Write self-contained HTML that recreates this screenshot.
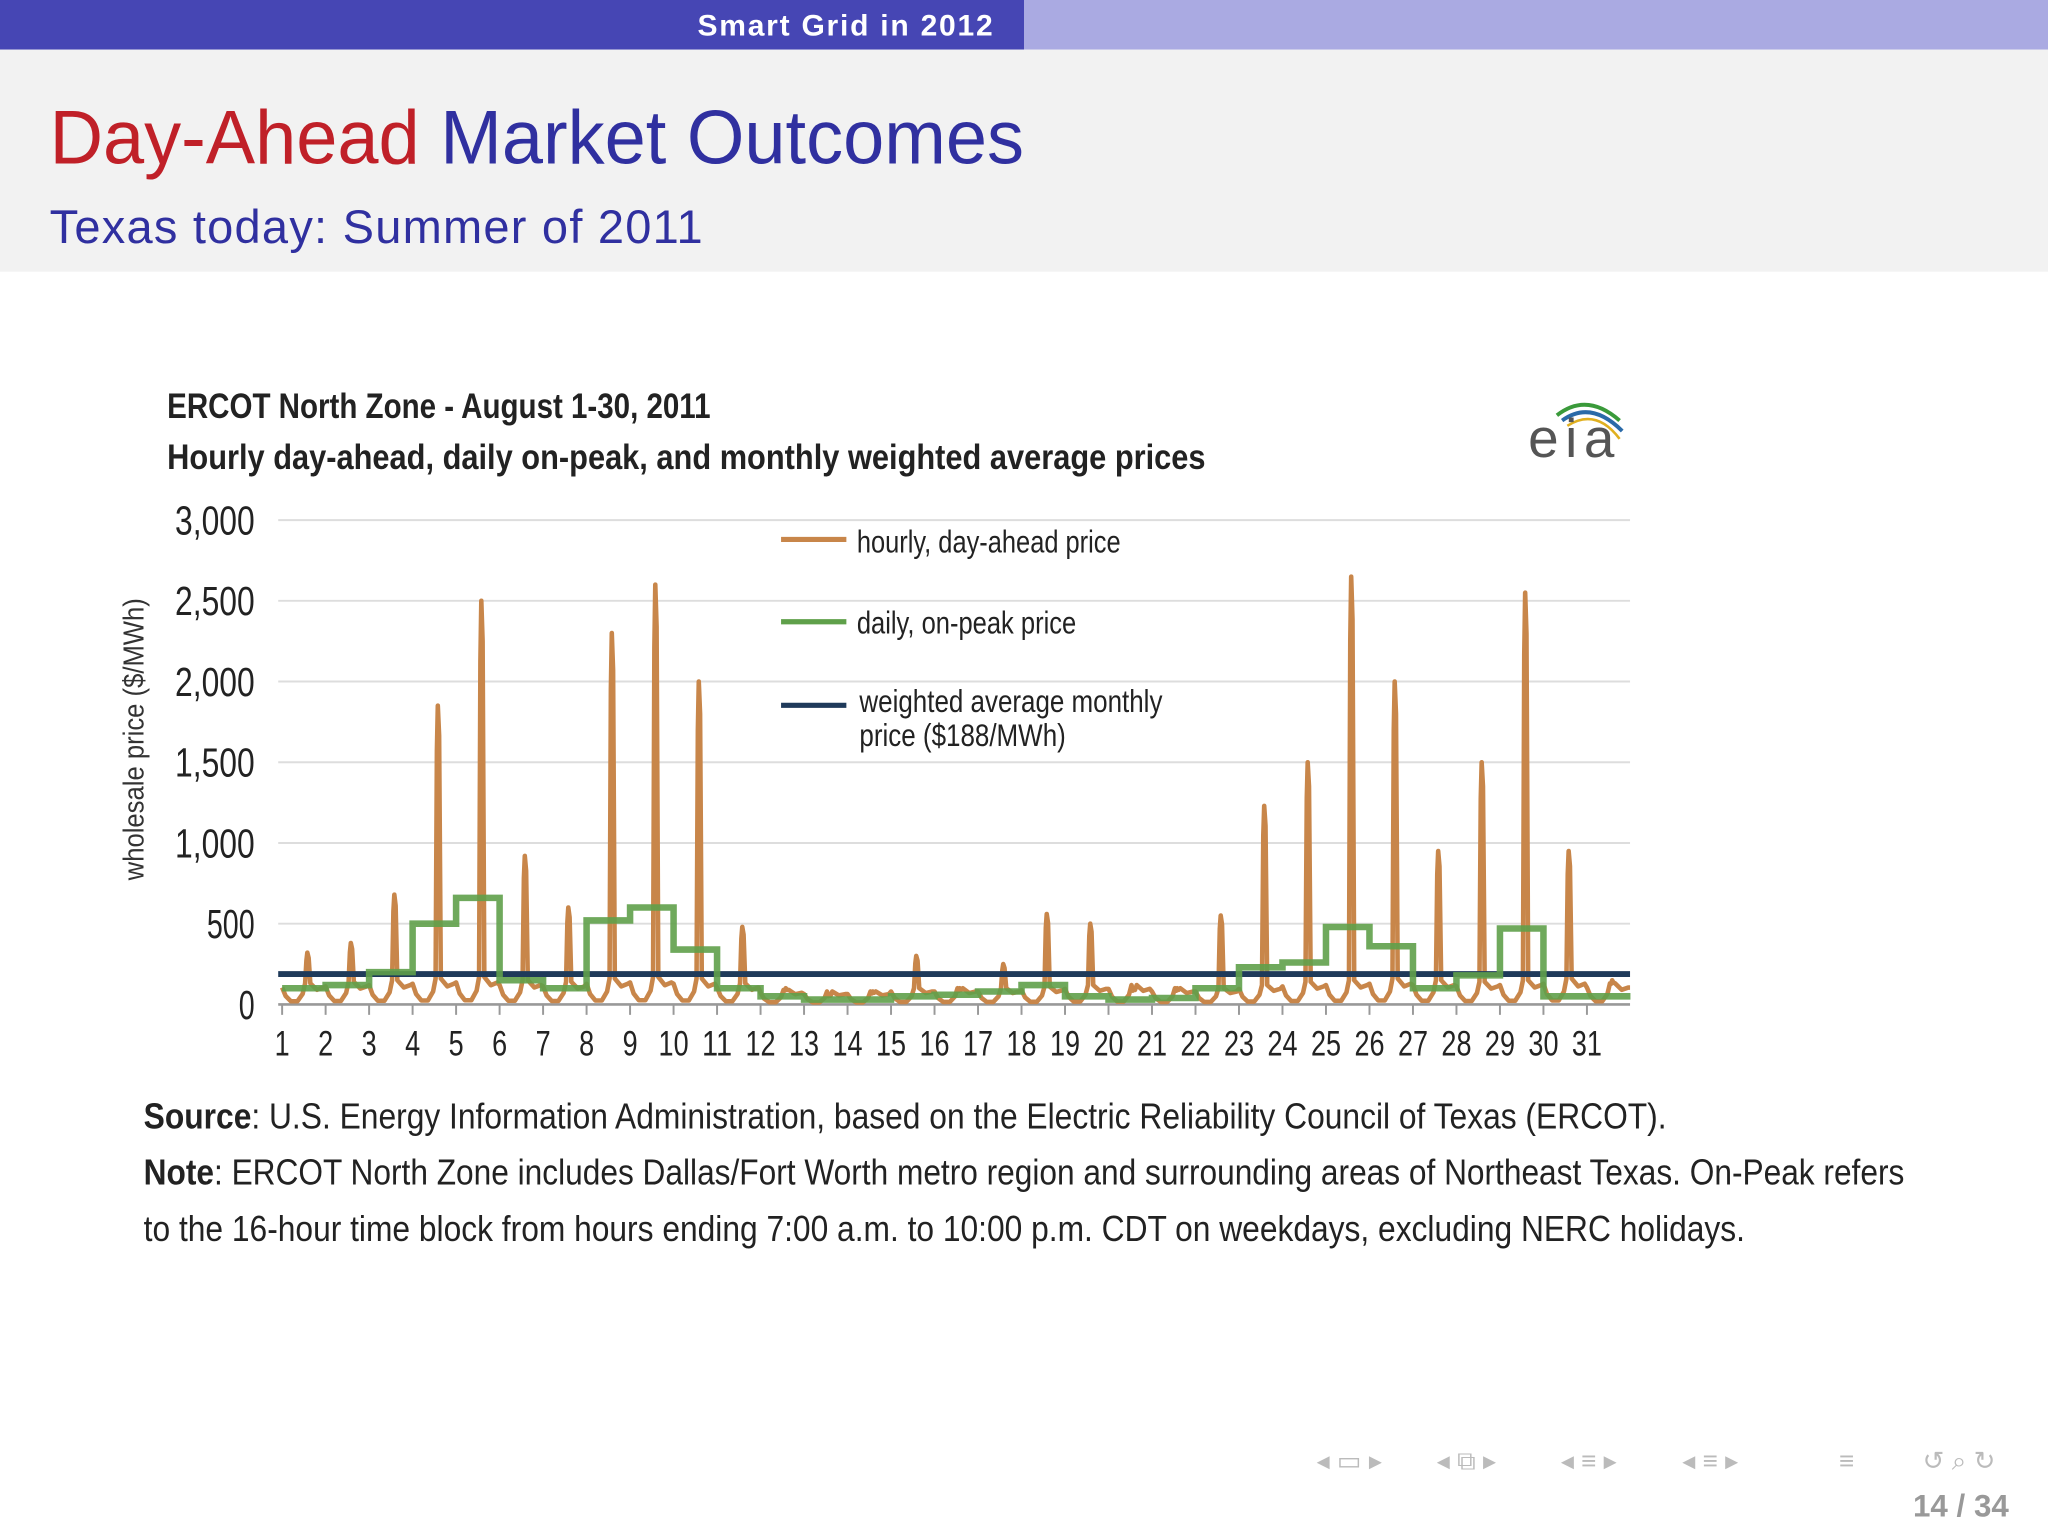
<!DOCTYPE html>
<html><head><meta charset="utf-8"><style>
html,body{margin:0;padding:0;background:#fff;}
svg{display:block;}
text{font-family:"Liberation Sans",sans-serif;}
</style></head><body>
<svg id="s" width="2048" height="1536" viewBox="0 0 1568 1176" xmlns="http://www.w3.org/2000/svg">
<rect x="0" y="0" width="784" height="38" fill="#4646b4"/>
<rect x="784" y="0" width="784" height="38" fill="#aaaae2"/>
<text x="647" y="27" fill="#fff" font-size="23" text-anchor="middle" font-weight="bold" textLength="226">Smart Grid in 2012</text>
<rect x="0" y="38" width="1568" height="170" fill="#f2f2f2"/>
<text x="38" y="125" font-size="58" textLength="746" lengthAdjust="spacingAndGlyphs"><tspan fill="#c02028">Day-Ahead </tspan><tspan fill="#3030a0">Market Outcomes</tspan></text>
<text x="38" y="186" font-size="36" fill="#3030a0" textLength="500">Texas today: Summer of 2011</text>

<text x="128" y="320" font-size="27" font-weight="bold" fill="#222" textLength="416" lengthAdjust="spacingAndGlyphs">ERCOT North Zone - August 1-30, 2011</text>
<text x="128" y="359" font-size="27" font-weight="bold" fill="#222" textLength="795" lengthAdjust="spacingAndGlyphs">Hourly day-ahead, daily on-peak, and monthly weighted average prices</text>

<g>
<path d="M1192 318 Q1215 300 1240 322" stroke="#3a9a3a" stroke-width="3" fill="none"/>
<path d="M1196 322 Q1218 306 1242 330" stroke="#2a6aa8" stroke-width="3" fill="none"/>
<path d="M1200 326 Q1222 312 1240 336" stroke="#e0b020" stroke-width="2" fill="none"/>
<text x="1170" y="350" font-family="Liberation Serif,serif" font-size="42" fill="#555" textLength="66">eia</text>
</g>

<text transform="translate(110,566) rotate(-90)" font-size="22" fill="#333" text-anchor="middle" textLength="216" lengthAdjust="spacingAndGlyphs">wholesale price ($/MWh)</text>

<g id="grid"></g><g id="ylab"></g><g id="xlab"></g><g id="marks"></g>

<g>
<line x1="598" y1="413" x2="648" y2="413" stroke="#c8864a" stroke-width="4"/>
<text x="656" y="423" font-size="24" fill="#222" textLength="202" lengthAdjust="spacingAndGlyphs">hourly, day-ahead price</text>
<line x1="598" y1="476" x2="648" y2="476" stroke="#5fa04a" stroke-width="4"/>
<text x="656" y="485" font-size="24" fill="#222" textLength="168" lengthAdjust="spacingAndGlyphs">daily, on-peak price</text>
<line x1="598" y1="540" x2="648" y2="540" stroke="#1f3a5a" stroke-width="4"/>
<text x="658" y="545" font-size="24" fill="#222" textLength="232" lengthAdjust="spacingAndGlyphs">weighted average monthly</text>
<text x="658" y="571" font-size="24" fill="#222" textLength="158" lengthAdjust="spacingAndGlyphs">price ($188/MWh)</text>
</g>

<text x="110" y="864" font-size="28" fill="#222" textLength="1166" lengthAdjust="spacingAndGlyphs"><tspan font-weight="bold">Source</tspan>: U.S. Energy Information Administration, based on the Electric Reliability Council of Texas (ERCOT).</text>
<text x="110" y="907" font-size="28" fill="#222" textLength="1348" lengthAdjust="spacingAndGlyphs"><tspan font-weight="bold">Note</tspan>: ERCOT North Zone includes Dallas/Fort Worth metro region and surrounding areas of Northeast Texas. On-Peak refers</text>
<text x="110" y="950" font-size="28" fill="#222" textLength="1226" lengthAdjust="spacingAndGlyphs">to the 16-hour time block from hours ending 7:00 a.m. to 10:00 p.m. CDT on weekdays, excluding NERC holidays.</text>

<g fill="#bbb" font-size="20">
<text x="1008" y="1125">◂ ▭ ▸</text><text x="1100" y="1125">◂ ⧉ ▸</text><text x="1195" y="1125">◂ ≡ ▸</text><text x="1288" y="1125">◂ ≡ ▸</text><text x="1408" y="1125">≡</text><text x="1472" y="1125">↺ ⌕ ↻</text>
</g>
<text x="1538" y="1161" font-size="24" fill="#999" text-anchor="end" font-weight="bold">14 / 34</text>
</svg>
<script>
const yTicks=[0,500,1000,1500,2000,2500,3000];
const yTickLabels=["0","500","1,000","1,500","2,000","2,500","3,000"];
const days=[1,2,3,4,5,6,7,8,9,10,11,12,13,14,15,16,17,18,19,20,21,22,23,24,25,26,27,28,29,30,31];
const dailyPeak=[320,380,680,1850,2500,920,600,2300,2600,2000,480,100,60,80,300,100,250,560,500,100,100,550,1230,1500,2650,2000,950,1500,2550,950,150];
const dailyShoulder=[130,140,150,160,170,150,140,160,170,160,130,90,80,80,100,100,100,110,120,120,100,100,120,140,150,160,150,140,150,160,130];
const onPeak=[100,120,200,500,660,150,100,520,600,340,100,50,30,30,50,60,80,120,50,30,40,100,230,260,480,360,100,180,470,50,50];
const monthlyAvg=188;
const X0=216,DW=33.3,Y0=769,PX=61.8/500;
const xs=d=>X0+(d-1)*DW;
const ys=v=>Y0-v*PX;
const NS="http://www.w3.org/2000/svg";
function mk(t,a,p){const e=document.createElementNS(NS,t);for(const k in a)e.setAttribute(k,a[k]);document.getElementById(p).appendChild(e);return e;}
yTicks.forEach((v,i)=>{
 const g=mk("line",{x1:213,x2:1248,y1:ys(v),y2:ys(v),stroke:v===0?"#999":"#ddd","stroke-width":v===0?2:1.5},"grid");
 
 
 const lab=yTickLabels[i];
 const t=mk("text",{x:195,y:ys(v)+11,"font-size":31,fill:"#222","text-anchor":"end",textLength:lab.length*12.2,lengthAdjust:"spacingAndGlyphs"},"ylab");
 t.textContent=lab;
 
 
});
days.forEach(d=>{
 const tk=mk("line",{x1:xs(d),x2:xs(d),y1:Y0,y2:Y0+8,stroke:"#999","stroke-width":1.5},"grid");
 
 
 const s=String(d);
 const t=mk("text",{x:xs(d),y:808,"font-size":27,fill:"#222","text-anchor":"middle",textLength:s.length*11.5,lengthAdjust:"spacingAndGlyphs"},"xlab");
 t.textContent=s;
 
 
});
let pts=[];
days.forEach((d,i)=>{
 const x=xs(d),s=dailyShoulder[i],p=dailyPeak[i];
 pts.push([x,s*0.8],[x+DW*0.08,s*0.4],[x+DW*0.2,s*0.15],[x+DW*0.35,s*0.15],[x+DW*0.47,s*0.5],[x+DW*0.53,s],[x+DW*0.56,p*0.85],[x+DW*0.58,p],[x+DW*0.61,p*0.9],[x+DW*0.65,s],[x+DW*0.8,s*0.7],[x+DW*0.95,s*0.8]);
});
pts.push([1248,dailyShoulder[30]*0.8]);
const h=mk("polyline",{points:pts.map(q=>q[0].toFixed(1)+","+ys(q[1]).toFixed(1)).join(" "),fill:"none",stroke:"#c8864a","stroke-width":3.5,"stroke-linejoin":"round"},"marks");


const m=mk("line",{x1:213,x2:1248,y1:ys(monthlyAvg),y2:ys(monthlyAvg),stroke:"#1f3a5a","stroke-width":4.5},"marks");


let sp=[];
days.forEach((d,i)=>{sp.push([xs(d),onPeak[i]],[xs(d)+DW,onPeak[i]]);});
const g2=mk("polyline",{points:sp.map(q=>q[0].toFixed(1)+","+ys(q[1]).toFixed(1)).join(" "),fill:"none",stroke:"#5fa04a","stroke-width":5,"stroke-opacity":0.9},"marks");


</script>
</body></html>
